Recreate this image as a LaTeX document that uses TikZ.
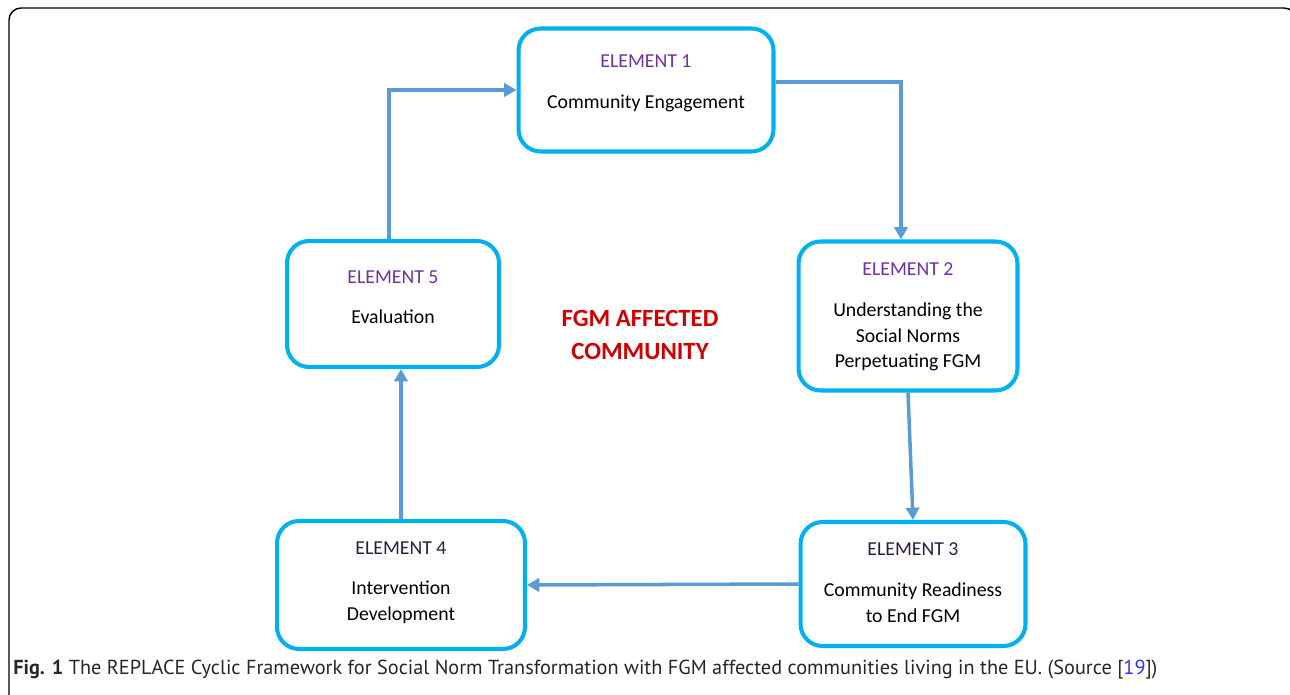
\documentclass[tikz,border=0pt]{standalone}
\usepackage{fontspec}
\setmainfont{Carlito}
\newfontfamily\capfont{PT Sans}
\usetikzlibrary{arrows.meta}
\definecolor{elborder}{HTML}{00B0F0}
\definecolor{elarrow}{HTML}{5B9BD5}
\definecolor{elpurple}{HTML}{7030A0}
\definecolor{eldark}{HTML}{2E1A47}
\definecolor{fgmred}{HTML}{D00000}
\definecolor{reflink}{HTML}{3333FF}

\begin{document}
\begin{tikzpicture}[x=0.02cm, y=-0.02cm,
    >={Triangle[length=7pt, width=7.5pt]},
    elbox/.style={rectangle, rounded corners=0.44cm, draw=elborder, line width=2.3pt},
    elhead/.style={font=\fontsize{11.25}{14.7}\selectfont},
    eltext/.style={align=center, font=\fontsize{11.25}{14.7}\selectfont},
    flow/.style={->, draw=elarrow, line width=2pt}]
    \useasboundingbox (0,0) rectangle (1290,695);

    % Outer frame
    \draw[line width=0.8pt, rounded corners=0.24cm] (9,700) -- (9,8) -- (1296,8) -- (1296,700);

    % Element boxes
    \node[elbox, minimum width=5.1cm, minimum height=2.46cm] (e1) at (646,90) {};
    \node[elbox, minimum width=4.38cm, minimum height=2.98cm] (e2) at (908,316) {};
    \node[elbox, minimum width=4.5cm, minimum height=2.48cm] (e3) at (913,584) {};
    \node[elbox, minimum width=4.96cm, minimum height=2.56cm] (e4) at (401,585) {};
    \node[elbox, minimum width=4.24cm, minimum height=2.52cm] (e5) at (393,304) {};

    % Element texts
    \node[elhead, text=elpurple] (h1) at (646,61) {ELEMENT 1};
    \node[eltext] (t1) at (646,103) {Community Engagement};
    \node[elhead, text=elpurple] (h2) at (908,269) {ELEMENT 2};
    \node[eltext] (t2) at (908,337) {Understanding the\\Social Norms\\Perpetuating FGM};
    \node[elhead, text=eldark] (h3) at (913,549) {ELEMENT 3};
    \node[eltext] (t3) at (913,603) {Community Readiness\\to End FGM};
    \node[elhead, text=eldark] (h4) at (401,548) {ELEMENT 4};
    \node[eltext] (t4) at (401,602) {Intervention\\Development};
    \node[elhead, text=elpurple] (h5) at (393,277) {ELEMENT 5};
    \node[eltext] (t5) at (393,317) {Evaluation};

    % Centre label
    \node[align=center, text=fgmred, font=\bfseries\fontsize{14.1}{19.3}\selectfont] (fgm) at (640,335) {FGM AFFECTED\\COMMUNITY};

    % Cycle
    \draw[flow] ([xshift=-0.08cm]e5.north) |- (e1.west);
    \draw[flow] ([yshift=4.5pt]e1.east) -| ([xshift=-0.14cm]e2.north);
    \draw[flow] (e2.south) -- (e3.north);
    \draw[flow] (e3.west) -- (e4.east);
    \draw[flow] (e4.north) -- (e5.south -| e4.north);

    % Caption
    \node[anchor=base west, inner sep=0pt, text=black!85, font=\capfont\fontsize{11.55}{13}\selectfont] (cap) at (13,674)
        {\textbf{Fig. 1} The REPLACE Cyclic Framework for Social Norm Transformation with FGM affected communities living in the EU. (Source [\textcolor{reflink}{19}])};
\end{tikzpicture}
\end{document}
